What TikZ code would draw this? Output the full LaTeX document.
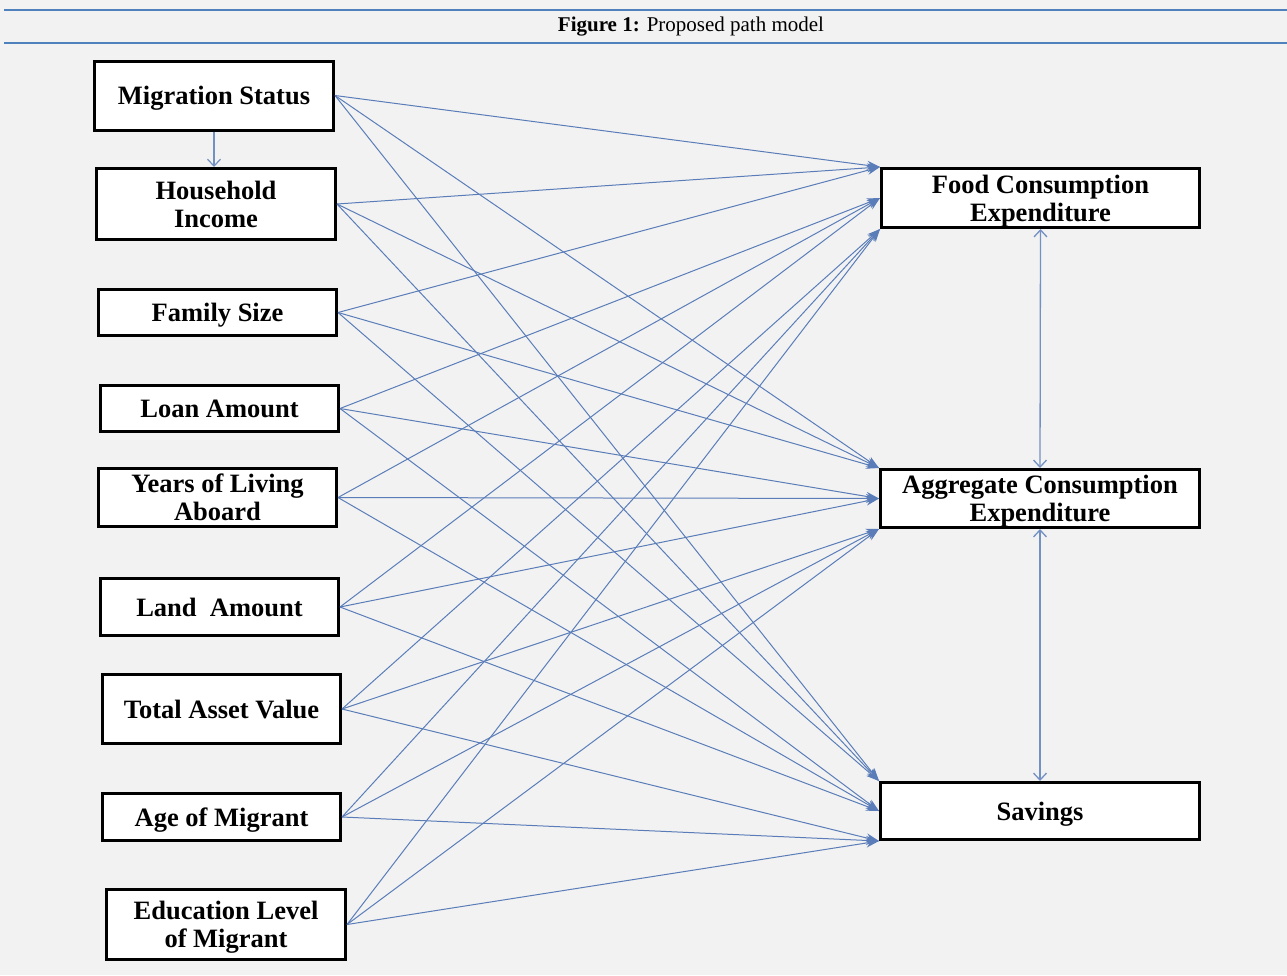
\documentclass[tikz,border=0pt]{standalone}
\usepackage{fontspec}
\setmainfont{Liberation Serif}
\usetikzlibrary{arrows.meta}
\definecolor{bgc}{RGB}{242,242,242}
\definecolor{rule}{RGB}{79,129,189}
\definecolor{arr}{RGB}{90,125,185}
\tikzset{
  box/.style={draw=black, line width=3pt, fill=white, align=center, inner sep=2pt,
    text depth=0pt, font=\bfseries\fontsize{26.5}{28}\selectfont},
  path/.style={draw=arr, line width=1pt, -{Stealth[length=13pt,width=9pt]}},
  vlink/.style={draw=arr!85, line width=1.3pt, {Straight Barb[length=7pt,width=13pt]}-{Straight Barb[length=7pt,width=13pt]}},
  down/.style={draw=arr!85, line width=1.2pt, -{Straight Barb[length=7pt,width=13pt]}}
}
\begin{document}
\begin{tikzpicture}[x=1pt,y=-1pt]
\fill[bgc] (0,0) rectangle (1287,975);
\useasboundingbox (0,0) rectangle (1287,975);
\draw[rule, line width=1.5pt] (4,10) -- (1287,10);
\draw[rule, line width=1.5pt] (4,43) -- (1287,43);
\node[font=\fontsize{21}{24}\selectfont] (title) at (691,27) {\textbf{Figure 1:} Proposed path model};

\node[box, minimum width=239pt, minimum height=69pt] (mig) at (214,95.5) {Migration Status};
\node[box, minimum width=239pt, minimum height=71pt] (hh) at (216,204) {Household\\Income};
\node[box, minimum width=238pt, minimum height=46pt] (fam) at (217.5,312.5) {Family Size};
\node[box, minimum width=238pt, minimum height=46pt] (loan) at (219.5,408.5) {Loan Amount};
\node[box, minimum width=238pt, minimum height=58pt] (yrs) at (217.5,497.5) {Years of Living\\Aboard};
\node[box, minimum width=238pt, minimum height=57pt] (land) at (219.5,607) {Land\ \ Amount};
\node[box, minimum width=238pt, minimum height=69pt] (tot) at (221.5,709) {Total Asset Value};
\node[box, minimum width=238pt, minimum height=47pt] (age) at (221.5,817) {Age of Migrant};
\node[box, minimum width=239pt, minimum height=70pt] (edu) at (226,924.5) {Education Level\\of Migrant};

\node[box, minimum width=318pt, minimum height=59pt] (food) at (1040.5,198) {Food Consumption\\Expenditure};
\node[box, minimum width=319pt, minimum height=58pt] (agg) at (1040,498.5) {Aggregate Consumption\\Expenditure};
\node[box, minimum width=319pt, minimum height=57pt] (sav) at (1040,811) {Savings};

\draw[down] (mig.south) -- (mig.south |- hh.north);

\foreach \s in {mig,hh,fam}{
  \draw[path] (\s.east) -- (food.north west);
  \draw[path] (\s.east) -- (agg.north west);
  \draw[path] (\s.east) -- (sav.north west);
}
\foreach \s in {loan,yrs,land}{
  \draw[path] (\s.east) -- (food.west);
  \draw[path] (\s.east) -- (agg.west);
  \draw[path] (\s.east) -- (sav.west);
}
\foreach \s in {tot,age,edu}{
  \draw[path] (\s.east) -- (food.south west);
  \draw[path] (\s.east) -- (agg.south west);
  \draw[path] (\s.east) -- (sav.south west);
}

\draw[vlink] (food.south) -- (agg.north);
\draw[vlink] (agg.south) -- (sav.north);
\end{tikzpicture}
\end{document}
